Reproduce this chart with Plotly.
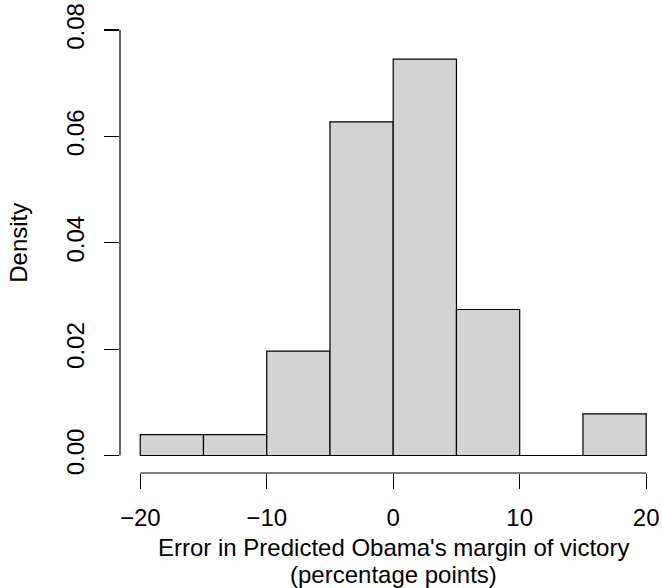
import plotly.graph_objects as go

bin_left = [-20, -15, -10, -5, 0, 5, 10, 15]
bin_width = 5
density = [1/255, 1/255, 5/255, 16/255, 19/255, 7/255, 0/255, 2/255]
x_ticks = [-20, -10, 0, 10, 20]
x_ticklabels = ["\u221220", "\u221210", "0", "10", "20"]
y_ticks = [0.00, 0.02, 0.04, 0.06, 0.08]
y_ticklabels = ["0.00", "0.02", "0.04", "0.06", "0.08"]

FONT = "Liberation Sans, Arial, Helvetica, sans-serif"
FS = 24

mids = [b + bin_width / 2 for b in bin_left]

fig = go.Figure(go.Bar(
    x=mids, y=density, width=[bin_width] * len(mids),
    marker=dict(color="#d3d3d3", line=dict(color="black", width=1.2)),
    hoverinfo="skip",
))

fig.update_layout(
    template="none",
    width=662, height=588,
    margin=dict(l=120, r=0, t=13, b=115, autoexpand=False),
    paper_bgcolor="white", plot_bgcolor="white",
    showlegend=False,
    font=dict(family=FONT, size=FS, color="black"),
    xaxis=dict(
        range=[-21.6, 21.25], tickvals=x_ticks, ticktext=x_ticklabels,
        ticks="outside", ticklen=15, tickwidth=1.2, tickcolor="black",
        showgrid=False, zeroline=False, showline=False, automargin=False,
        ticklabelstandoff=8, ticklabeloverflow="allow", tickfont=dict(size=FS),
    ),
    yaxis=dict(
        range=[-0.00329, 0.0832], tickvals=y_ticks, ticktext=y_ticklabels,
        ticks="outside", ticklen=15, tickwidth=1.2, tickcolor="black",
        showgrid=False, zeroline=False, showline=False, tickangle=-90,
        automargin=False, ticklabelstandoff=10, ticklabeloverflow="allow",
        tickfont=dict(size=FS),
    ),
    shapes=[
        dict(type="line", xref="x", yref="paper", x0=x_ticks[0], x1=x_ticks[-1], y0=0, y1=0,
             line=dict(color="black", width=1.2)),
        dict(type="line", xref="paper", yref="y", x0=0, x1=0, y0=y_ticks[0], y1=y_ticks[-1],
             line=dict(color="black", width=1.2)),
    ],
    annotations=[
        dict(text="Error in Predicted Obama's margin of victory",
             xref="x", yref="paper", x=0, y=0, yshift=-74, yanchor="middle",
             showarrow=False, font=dict(size=FS)),
        dict(text="(percentage points)",
             xref="x", yref="paper", x=0, y=0, yshift=-101, yanchor="middle",
             showarrow=False, font=dict(size=FS)),
        dict(text="Density", xref="paper", yref="y", x=0, xshift=-101, y=0.04,
             xanchor="center", yanchor="middle",
             textangle=-90, showarrow=False, font=dict(size=FS)),
    ],
)

fig.write_html(
    "out.html",
    config={"displayModeBar": False, "staticPlot": True},
    post_script="document.body.style.margin='0';document.body.style.overflow='hidden';",
)
